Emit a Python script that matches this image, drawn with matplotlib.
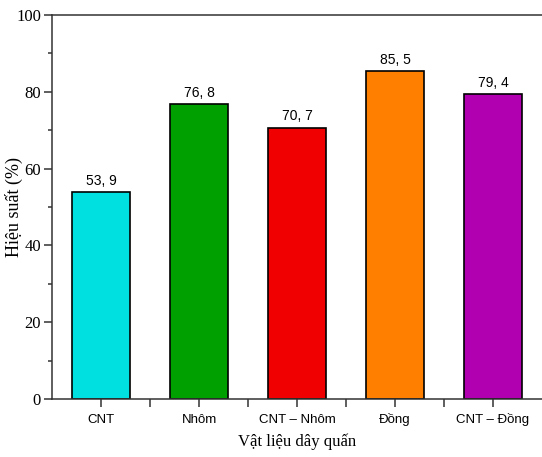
import numpy as np
from matplotlib import pyplot as plt
from matplotlib.ticker import MultipleLocator, FixedLocator

materials = ['CNT', 'Nhôm', 'CNT – Nhôm', 'Đồng', 'CNT – Đồng']
efficiency = [53.9, 76.8, 70.7, 85.5, 79.4]
value_labels = ['53, 9', '76, 8', '70, 7', '85, 5', '79, 4']
colors = ['#00E0E0', '#00A000', '#F00000', '#FF8000', '#B000B0']

fig = plt.figure(figsize=(5.42, 4.57), dpi=100)
ax = fig.add_axes([0.096, 0.127, 0.904, 0.840])

x = np.arange(len(materials))
bars = ax.bar(x, efficiency, width=0.6, color=colors, edgecolor='black', linewidth=1.2)

for rect, lab in zip(bars, value_labels):
    ax.annotate(lab, (rect.get_x() + rect.get_width() / 2, rect.get_height()),
                xytext=(0, 3), textcoords='offset points',
                ha='center', va='bottom', fontsize=10, family='Liberation Sans')

ax.set_xlim(-0.5, 4.5)
ax.set_ylim(0, 100)
ax.set_xticks(x)
ax.set_xticklabels(materials, family='Liberation Sans', fontsize=9.5, va='baseline')
ax.xaxis.set_minor_locator(FixedLocator(x[:-1] + 0.5))
ax.yaxis.set_major_locator(MultipleLocator(20))
ax.yaxis.set_minor_locator(MultipleLocator(10))
for lab in ax.get_yticklabels():
    lab.set_family('Liberation Serif')
    lab.set_fontsize(12)

ax.tick_params(which='major', direction='out', length=6, width=1.1, color='#333333')
ax.tick_params(which='minor', direction='out', length=3, width=1.1, color='#333333')
ax.tick_params(axis='x', which='minor', length=6)
ax.tick_params(axis='x', pad=11)
ax.tick_params(axis='y', pad=2)
for s in ax.spines.values():
    s.set_linewidth(1.1)
    s.set_color('#333333')
ax.spines['right'].set_visible(False)

ax.set_xlabel('Vật liệu dây quấn', family='Liberation Serif', fontsize=12, va='center')
ax.xaxis.set_label_coords(0.5, -0.112)
ax.set_ylabel('Hiệu suất (%)', family='Liberation Serif', fontsize=13, va='center')
ax.yaxis.set_label_coords(-0.078, 0.5)

plt.savefig('out.png', dpi=100)
